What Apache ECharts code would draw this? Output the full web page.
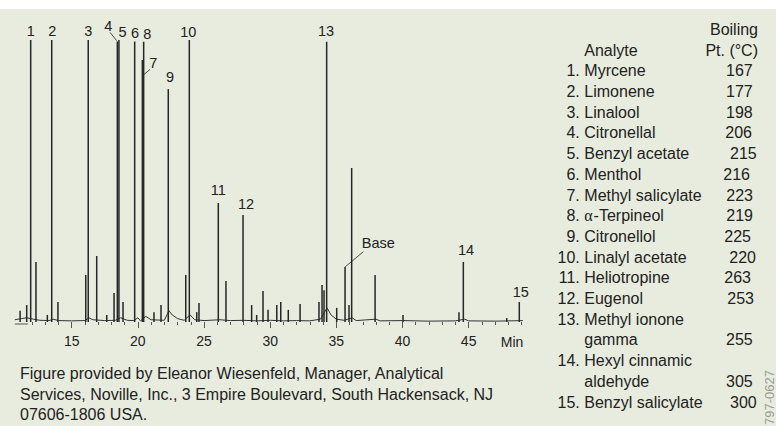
<!DOCTYPE html>
<html><head><meta charset="utf-8">
<script src="https://cdn.jsdelivr.net/npm/echarts@6/dist/echarts.min.js"></script>
<style>
html,body{margin:0;padding:0;background:#fff}
#c{width:776px;height:426px;background:linear-gradient(#ffffff 0,#ffffff 9px,#e8ecde 9px,#e8ecde 100%)}
</style>
</head><body><div id="c"></div>
<script>
// ---- data ----
const peakLabels   = ['1','2','3','4','5','6','7','8','9','10','11','12','13','14','15'];
const peakTimes    = [11.90,13.49,16.25,18.45,18.57,19.76,20.34,20.44,22.30,23.89,26.08,27.95,34.27,44.60,48.83];
const peakHeights  = [100,100,100,99.5,100,99.5,92.9,99.4,82.6,100,42.2,37.9,99.4,21.3,7.1];

const markerLabel  = 'Base';
const markerTime   = 35.66;
const markerHeight = 19.5;

const minorTimes   = [11.1,11.6,12.30,13.16,13.96,16.06,16.89,17.65,18.20,18.88,21.22,21.75,23.62,24.45,24.62,26.66,28.6,28.98,29.46,29.84,30.5,30.80,31.37,32.26,33.69,33.92,34.07,35.03,35.96,36.16,37.93,40.04,44.27,47.88];
const minorHeights = [4,6,21.3,2.5,7.1,16.7,23.4,2.5,10.3,7.1,3.5,6,16.7,3.5,6.7,14.5,6,2.5,11,4.3,6,7.1,4.3,6.4,7.1,13.1,11.3,5,6,54.6,16.7,2.5,3.5,1.4];

const baselineTimes  = [10.7,11.2,11.6,12.1,12.6,13.3,13.6,14.0,15.0,16.0,16.3,16.6,17.5,18.3,18.7,19.2,19.7,20.0,20.2,20.6,21.0,22.0,22.35,22.6,23.0,23.5,23.95,24.3,25.0,26.2,27.0,28.0,29.0,30.0,31.0,32.0,33.0,33.8,34.3,34.6,35.0,35.6,36.2,36.5,38.0,38.3,40.0,42.0,44.0,44.7,45.0,47.0,49.1];
const baselineLevels = [0.8,1.2,1.5,1.0,0.6,0.5,1.0,0.5,0.4,0.5,1.5,0.8,0.5,0.6,1.5,0.6,0.5,1.5,0.4,2.0,0.8,0.6,4.0,2.5,1.2,0.6,2.5,0.8,0.5,0.8,0.5,0.6,0.4,0.6,0.4,0.5,0.4,1.0,5.0,2.5,1.0,0.6,1.5,0.5,1.0,0.4,0.5,0.3,0.4,1.0,0.4,0.3,0.5];

const tickMinutes  = [12,13,14,15,16,17,18,19,20,21,22,23,24,25,26,27,28,29,30,31,32,33,34,35,36,37,38,39,40,41,42,43,44,45,46,47,48,49];
const labelMinutes = [15,20,25,30,35,40,45];
const axisUnit     = 'Min';

// ---- table ----
const analyteNumbers = ['1.','2.','3.','4.','5.','6.','7.','8.','9.','10.','11.','12.','13.','14.','15.'];
const analyteNames   = ['Myrcene','Limonene','Linalool','Citronellal','Benzyl acetate','Menthol','Methyl salicylate','α-Terpineol','Citronellol','Linalyl acetate','Heliotropine','Eugenol','Methyl ionone\ngamma','Hexyl cinnamic\naldehyde','Benzyl salicylate'];
const boilingPoints  = [167,177,198,206,215,216,223,219,225,220,263,253,255,305,300];
const headerAnalyte  = 'Analyte';
const headerBoiling  = ['Boiling','Pt. (°C)'];
const captionLines   = ['Figure provided by Eleanor Wiesenfeld, Manager, Analytical','Services, Noville, Inc., 3 Empire Boulevard, South Hackensack, NJ','07606-1806 USA.'];
const figureCode     = '797-0627';

// ---- styling / placement (not data) ----
const labelOffsets = [[0,-9],[0.5,-9],[0,-9],[-9,-15.5],[3.5,-8],[0.3,-8.4],[11,3.3],[3.6,-7.7],[1.7,-11.7],[-1,-8.3],[0,-13.3],[3,-11],[-0.7,-11],[2.7,-12],[1.4,-10.3]];
const leaders = {3:[[-0.6,-0.7],[-7.3,-9]], 6:[[1,15],[7.7,9.3]]};
const markerOffset = [33.3,-23.7];
const markerLeader = [[0,0],[18.3,-15.3]];
const valueRightX = [752.7,752.7,752.7,752,756.7,750,753,753,751,756,751,754,752.7,752.7,756.7];
const INK = '#222';
const FONT = '"Liberation Sans", Arial, sans-serif';

const chart = echarts.init(document.getElementById('c'), null, {renderer:'svg'});

const peakData = [];
peakTimes.forEach((t,i)=>peakData.push([t, peakHeights[i]]));
minorTimes.forEach((t,i)=>peakData.push([t, minorHeights[i]]));
peakData.push([markerTime, markerHeight]);
peakData.sort((a,b)=>a[0]-b[0]);

const XMIN = 10.7, XMAX = 49.2;
chart.setOption({
  animation:false,
  backgroundColor:'transparent',
  grid:{left:14.8, right:251.8, top:40, bottom:104},
  xAxis:[{
    type:'value', min:XMIN, max:XMAX,
    axisLine:{show:false}, splitLine:{show:false},
    axisTick:{show:true, customValues:tickMinutes, length:3, lineStyle:{color:'#555', width:1}},
    axisLabel:{customValues:labelMinutes, margin:12, fontSize:14, color:INK, fontFamily:FONT}
  },{
    type:'value', min:XMIN, max:XMAX, position:'bottom', offset:0,
    axisLine:{show:false}, splitLine:{show:false},
    axisTick:{show:true, customValues:labelMinutes, length:6, lineStyle:{color:'#555', width:1}},
    axisLabel:{show:false}
  }],
  yAxis:{type:'value', min:0, max:100, show:false},
  series:[
    {type:'line', xAxisIndex:0, data:baselineTimes.map((t,i)=>[t, baselineLevels[i]]),
     showSymbol:false, symbol:'none', lineStyle:{color:'#333', width:1}, clip:false, z:2},
    {type:'bar', xAxisIndex:0, data:peakData, barWidth:1.5, itemStyle:{color:'#262626'}, z:3}
  ]
});

const px = (t,h)=>chart.convertToPixel({xAxisIndex:0, yAxisIndex:0},[t,h]);
const g = [];
function txt(x,y,text,opts){
  opts = opts || {};
  const align = opts.align || 'center';
  g.push({type:'text', x:x, y:y, rotation:opts.rotation||0, z:10,
    style:{text:text, font:(opts.size||14)+'px '+(opts.family||FONT), fill:opts.color||INK,
      align:align, textAlign:align, verticalAlign:'middle', textVerticalAlign:'middle'}});
}
function line(x1,y1,x2,y2,color,w){
  g.push({type:'line', z:10, shape:{x1:x1,y1:y1,x2:x2,y2:y2}, style:{stroke:color||INK, lineWidth:w||0.8}});
}

// peak labels
peakLabels.forEach((lab,i)=>{
  const p = px(peakTimes[i], peakHeights[i]);
  txt(p[0]+labelOffsets[i][0], p[1]+labelOffsets[i][1], lab, {size:14.5});
  if (leaders[i]) {
    const L = leaders[i];
    line(p[0]+L[0][0], p[1]+L[0][1], p[0]+L[1][0], p[1]+L[1][1]);
  }
});
{
  const p = px(markerTime, markerHeight);
  txt(p[0]+markerOffset[0], p[1]+markerOffset[1], markerLabel, {size:14.5});
  line(p[0]+markerLeader[0][0], p[1]+markerLeader[0][1], p[0]+markerLeader[1][0], p[1]+markerLeader[1][1]);
}
// short axis stub at left
{
  const a = px(XMIN,0), b = px(XMIN+1,0);
  line(a[0], a[1]+2, b[0], b[1]+2, '#555', 1);
}
// axis unit
txt(512, 342, axisUnit, {size:14});

// table
const ROW0 = 70.8, ROWH = 20.7;
txt(758, 29.4, headerBoiling[0], {size:16, align:'right'});
txt(758, ROW0-ROWH, headerBoiling[1], {size:16, align:'right'});
txt(584.3, ROW0-ROWH, headerAnalyte, {size:16, align:'left'});
let row = 0;
analyteNames.forEach((name,i)=>{
  const y = ROW0 + row*ROWH;
  txt(579.8, y, analyteNumbers[i], {size:16, align:'right'});
  const parts = name.split('\n');
  parts.forEach((part,k)=>{
    const yy = y + k*ROWH;
    if (part.charAt(0)==='α') {
      txt(584.3, yy, 'α', {size:16, align:'left', family:'"Liberation Serif", serif'});
      txt(593.6, yy, part.slice(1), {size:16, align:'left'});
    } else {
      txt(584.3, yy, part, {size:16, align:'left'});
    }
  });
  txt(valueRightX[i], y + (parts.length-1)*ROWH, String(boilingPoints[i]), {size:16, align:'right'});
  row += parts.length;
});

// caption
captionLines.forEach((s,i)=>txt(20, 373.8 + i*20.5, s, {size:16, align:'left'}));

// figure code (rotated)
txt(769.5, 397.5, figureCode, {size:13, align:'center', color:'#9a9a9a', rotation:Math.PI/2});

chart.setOption({graphic:g});
</script></body></html>
